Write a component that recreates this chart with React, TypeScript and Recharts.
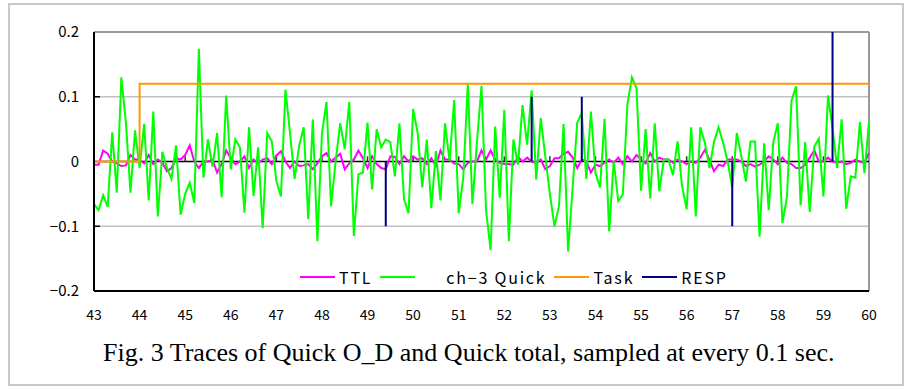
import { Legend, Line, LineChart, ReferenceLine, XAxis, YAxis } from "recharts"

// samples every 0.1 s starting at 43 s
const sampleStart = 43
const sampleStep = 0.1

const quickValues = [
  -0.066, -0.075, -0.052, -0.07, 0.045, -0.048, 0.13, 0.06, -0.048, 0.048,
  -0.01, 0.058, -0.06, 0.077, -0.085, 0.015, -0.01, -0.027, 0.025, -0.082,
  -0.05, -0.033, -0.064, 0.174, -0.025, 0.034, -0.008, 0.044, -0.055, 0.102,
  -0.012, 0.034, 0.022, -0.079, 0.053, -0.053, 0.022, -0.103, 0.044, 0.031,
  -0.03, -0.054, 0.111, 0.044, -0.027, 0.024, 0.053, -0.089, 0.065, -0.123,
  0.043, 0.092, -0.069, 0.0, 0.059, 0.019, 0.092, -0.115, -0.02, -0.017,
  0.06, -0.043, 0.05, 0.022, 0.034, 0.03, -0.023, 0.059, -0.058, -0.08,
  0.081, 0.044, -0.04, 0.034, -0.072, 0.016, -0.06, 0.059, 0.0, 0.095,
  -0.08, -0.025, 0.12, -0.066, 0.03, 0.117, -0.076, -0.137, 0.054, -0.056,
  0.08, -0.123, 0.034, -0.005, 0.087, 0.026, 0.11, -0.028, 0.067, 0.008,
  -0.05, -0.1, -0.069, 0.058, -0.139, -0.04, 0.06, 0.075, -0.027, 0.077,
  -0.018, -0.04, 0.066, -0.108, 0.0, -0.061, -0.051, 0.088, 0.13, 0.113,
  -0.045, 0.05, -0.057, 0.059, -0.046, 0.003, 0.003, -0.021, 0.031, -0.038,
  -0.074, 0.053, -0.085, 0.053, 0.029, -0.01, 0.03, 0.053, 0.029, 0.0,
  -0.04, 0.044, 0.008, -0.031, 0.031, 0.031, -0.116, 0.028, -0.075, 0.03,
  0.059, -0.095, -0.055, 0.094, 0.116, -0.068, 0.03, -0.078, 0.023, 0.035,
  -0.054, 0.102, 0.051, -0.01, 0.065, -0.073, -0.023, -0.025, 0.061, -0.018,
  0.062,
]

const ttlValues = [
  -0.005, -0.005, 0.017, 0.012, 0.0, -0.003, -0.007, -0.006, 0.01, 0.003,
  0.003, -0.003, 0.01, -0.004, 0.003, -0.002, -0.015, -0.01, 0.005, 0.003,
  0.01, 0.025, 0.0, -0.01, 0.0, 0.0, 0.003, -0.017, -0.004, 0.017,
  0.005, -0.004, 0.0, 0.008, -0.01, 0.003, -0.003, 0.003, 0.005, -0.004,
  0.009, 0.016, 0.0, -0.01, 0.0, -0.007, -0.006, -0.004, -0.012, -0.003,
  0.008, 0.013, 0.0, 0.006, 0.012, -0.012, -0.003, 0.003, 0.017, 0.005,
  -0.01, 0.008, -0.004, -0.01, -0.012, 0.008, 0.007, -0.004, 0.008, 0.0,
  0.008, 0.003, 0.005, -0.004, 0.005, -0.007, 0.017, 0.003, 0.003, -0.003,
  -0.004, -0.012, -0.002, 0.0, 0.0, 0.017, 0.003, 0.017, 0.003, -0.002,
  -0.004, -0.004, -0.005, 0.007, 0.0, 0.006, 0.0, -0.002, 0.003, -0.012,
  -0.007, 0.005, 0.005, 0.012, 0.015, 0.006, -0.01, 0.003, 0.0, -0.017,
  -0.005, -0.007, -0.002, 0.003, -0.002, 0.006, -0.004, 0.008, 0.0, 0.01,
  0.003, -0.003, 0.013, 0.0, 0.006, 0.003, 0.003, -0.002, 0.003, 0.0,
  -0.004, 0.0, -0.002, 0.006, 0.018, 0.003, -0.015, -0.005, -0.007, 0.003,
  0.003, 0.003, 0.0, -0.007, -0.004, -0.008, -0.005, 0.0, 0.008, 0.003,
  -0.004, 0.006, -0.002, -0.004, -0.01, -0.01, -0.005, 0.006, 0.017, 0.0,
  0.0, 0.006, 0.0, -0.002, 0.0, -0.004, -0.002, 0.003, 0.0, -0.002,
  0.013,
]

// task signal: off until 44 s, then on
const taskTimes = [43, 44, 44, 60]
const taskValues = [0, 0, 0.12, 0.12]

// response events (time, height)
const respTimes = [49.4, 52.6, 53.7, 57.0, 59.2]
const respValues = [-0.1, 0.1, 0.1, -0.1, 0.2]

const xTicks = [43, 44, 45, 46, 47, 48, 49, 50, 51, 52, 53, 54, 55, 56, 57, 58, 59, 60]
const yTicks = [-0.2, -0.1, 0, 0.1, 0.2]
const gridValues = [-0.1, 0.1]

const seriesOrder = ["ttl", "quick", "task", "resp"]

const rows = quickValues.map((q, i) => ({
  t: Math.round((sampleStart + i * sampleStep) * 10) / 10,
  quick: q,
  ttl: ttlValues[i],
}))

const taskData = taskTimes.map((t, i) => ({ t, task: taskValues[i] }))

// each event is drawn as a vertical stroke from 0, broken by a null
const respData = respTimes.flatMap((t, i) => [
  { t, resp: 0 },
  { t, resp: respValues[i] },
  { t, resp: null },
])

const tickFont = "'Noto Sans CJK JP', 'Noto Sans', sans-serif"

const fmtY = (v: number) => (v === 0 ? "0" : v < 0 ? `\u2212${Math.abs(v)}` : String(v))

function LegendRow(props: any) {
  const items = [...(props.payload || [])].sort(
    (a: any, b: any) => seriesOrder.indexOf(a.dataKey) - seriesOrder.indexOf(b.dataKey)
  )
  return (
    <div style={{ display: "flex", alignItems: "center", fontFamily: tickFont, fontSize: 16, color: "#000", whiteSpace: "nowrap" }}>
      {items.map((it: any) => (
        <div key={it.dataKey} style={{ display: "flex", alignItems: "center", marginRight: 8 }}>
          <span style={{ display: "inline-block", width: 35, height: 2, background: it.color }} />
          <span style={{ marginLeft: it.dataKey === "quick" ? 31 : 4, letterSpacing: 1.8 }}>{it.value}</span>
        </div>
      ))}
    </div>
  )
}

export default function App() {
  return (
    <div style={{ position: "absolute", left: 0, top: 0, width: 909, height: 389, background: "#fff" }}>
      <style>{"body{margin:0}"}</style>
      <div
        style={{
          position: "absolute",
          left: 8,
          top: 3,
          width: 896,
          height: 383,
          border: "2px solid #c8c8c8",
          boxSizing: "border-box",
        }}
      />
      <div style={{ position: "absolute", left: 0, top: 0 }}>
        <LineChart width={909} height={389} data={rows} margin={{ top: 32, right: 40, bottom: 68, left: 0 }}>
          <XAxis
            dataKey="t"
            type="number"
            domain={[43, 60]}
            ticks={xTicks}
            interval={0}
            height={30}
            tickSize={0}
            tickMargin={19}
            tickLine={false}
            axisLine={{ stroke: "#000", strokeWidth: 2 }}
            tick={{ fontSize: 14, fill: "#000", fontFamily: tickFont }}
          />
          <YAxis
            type="number"
            domain={[-0.2, 0.2]}
            ticks={yTicks}
            width={94}
            tickSize={0}
            tickMargin={15}
            tickLine={false}
            tickFormatter={fmtY}
            axisLine={{ stroke: "#000", strokeWidth: 2 }}
            tick={{ fontSize: 15, fill: "#000", fontFamily: tickFont }}
          />
          {gridValues.map((v) => (
            <ReferenceLine key={`g${v}`} y={v} stroke="#c0c0c0" strokeWidth={1.5} />
          ))}
          {gridValues.map((v) => (
            <ReferenceLine key={`yt${v}`} segment={[{ x: 43, y: v }, { x: 43.13, y: v }]} stroke="#000" strokeWidth={1.5} />
          ))}
          <ReferenceLine y={0.2} stroke="#9a9a9a" strokeWidth={2} />
          <ReferenceLine x={60} stroke="#9a9a9a" strokeWidth={2} />
          <ReferenceLine y={0} stroke="#000" strokeWidth={1.5} />
          {xTicks.slice(1, -1).map((t) => (
            <ReferenceLine key={`xt${t}`} segment={[{ x: t, y: 0 }, { x: t, y: 0.008 }]} stroke="#333" strokeWidth={1.5} />
          ))}
          <Line dataKey="ttl" name="TTL" stroke="#ff00ff" strokeWidth={2} dot={false} isAnimationActive={false} />
          <Line dataKey="quick" name={"ch\u22123 Quick"} stroke="#00ff00" strokeWidth={2} dot={false} isAnimationActive={false} />
          <Line data={taskData} dataKey="task" name="Task" stroke="#ff9900" strokeWidth={2} dot={false} isAnimationActive={false} />
          <Line
            data={respData}
            dataKey="resp"
            name="RESP"
            stroke="#000080"
            strokeWidth={2}
            dot={false}
            connectNulls={false}
            isAnimationActive={false}
          />
          <Legend
            layout="horizontal"
            verticalAlign="middle"
            align="center"
            content={LegendRow}
            wrapperStyle={{ left: 300, top: 265, width: 460 }}
          />
        </LineChart>
      </div>
      <div
        style={{
          position: "absolute",
          left: 103,
          top: 340,
          fontFamily: "'Liberation Serif', 'Times New Roman', serif",
          fontSize: 26,
          lineHeight: "26px",
          color: "#000",
          whiteSpace: "nowrap",
        }}
      >
        Fig. 3 Traces of Quick O_D and Quick total, sampled at every 0.1 sec.
      </div>
    </div>
  )
}
